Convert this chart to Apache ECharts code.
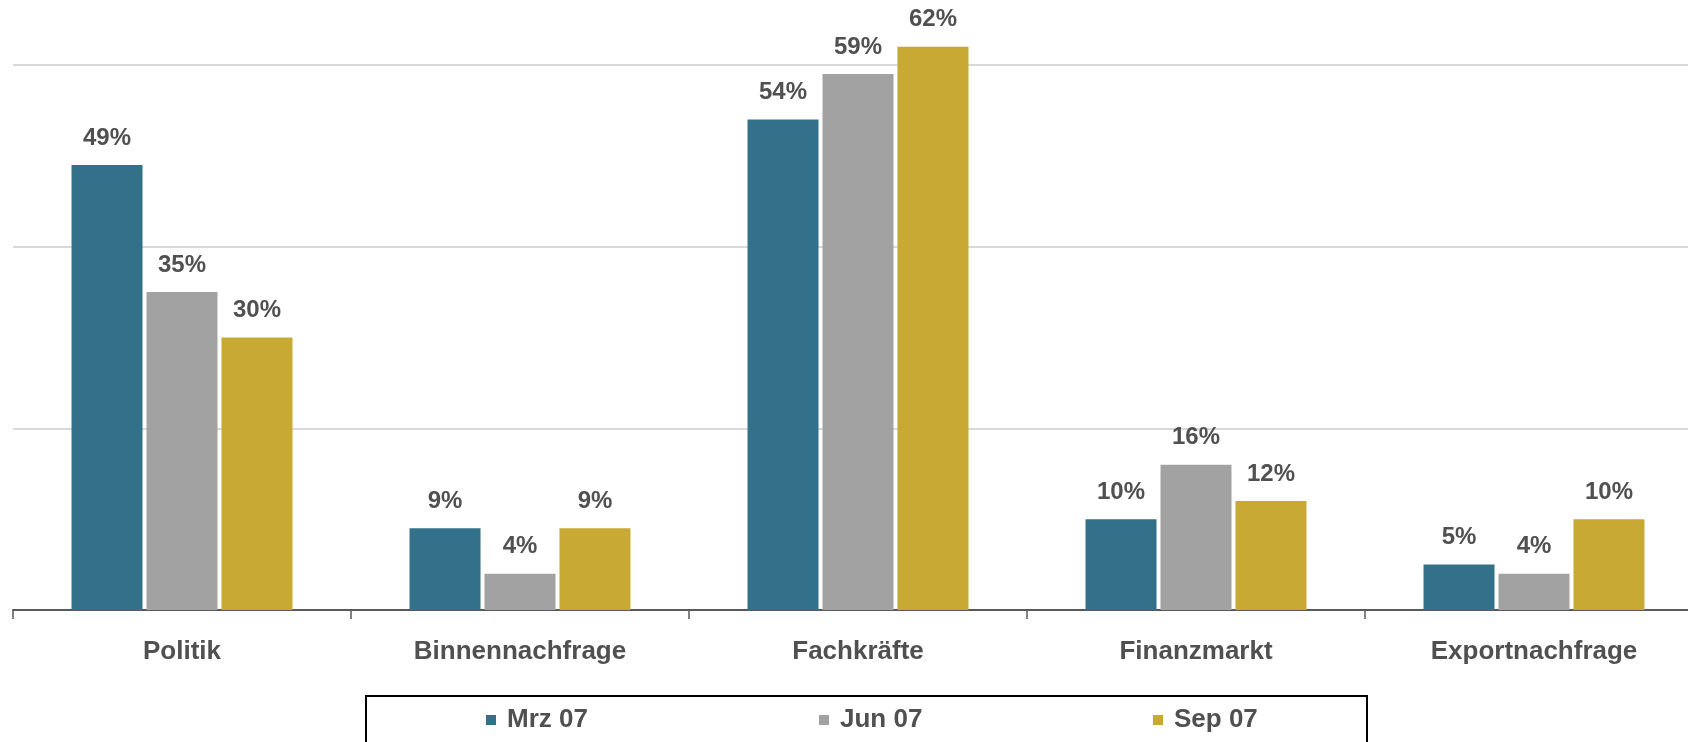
<!DOCTYPE html>
<html>
<head>
<meta charset="utf-8">
<script src="https://cdn.jsdelivr.net/npm/echarts@6/dist/echarts.min.js"></script>
<style>
  html, body { margin: 0; padding: 0; background: #fff; }
  #chart { width: 1688px; height: 742px; }
</style>
</head>
<body>
<div id="chart"></div>
<script>
// Daten
var categories = ['Politik', 'Binnennachfrage', 'Fachkräfte', 'Finanzmarkt', 'Exportnachfrage'];
var seriesNames = ['Mrz 07', 'Jun 07', 'Sep 07'];
var mrz07 = [49, 9, 54, 10, 5];
var jun07 = [35, 4, 59, 16, 4];
var sep07 = [30, 9, 62, 12, 10];
var colors = ['#33718b', '#a2a2a2', '#c8a933'];

var FONT = '"Liberation Sans", Arial, sans-serif';
var TEXT = '#505050';

function makeSeries(name, values, color) {
    return {
        name: name,
        type: 'bar',
        data: values,
        clip: false,          // 62% ragt über die oberste Linie
        barWidth: 71,
        barGap: '5.6%',
        itemStyle: { color: color },
        label: {
            show: true,
            position: 'top',
            distance: 15,
            formatter: '{c}%',
            color: TEXT,
            fontFamily: FONT,
            fontWeight: 'bold',
            fontSize: 24,
            lineHeight: 24
        }
    };
}

function makeLegend(name, left) {
    return {
        data: [name],
        left: left,
        top: 707,
        padding: 0,
        icon: 'rect',
        itemWidth: 10,
        itemHeight: 10,
        textStyle: {
            color: TEXT,
            fontFamily: FONT,
            fontWeight: 'bold',
            fontSize: 26,
            lineHeight: 26,
            padding: [0, 0, 0, 6]
        }
    };
}

var chart = echarts.init(document.getElementById('chart'));
var option = {
    backgroundColor: '#fff',
    animation: false,
    color: colors,
    grid: { left: 13, right: -15, top: 65, bottom: 132, outerBoundsMode: 'none', containLabel: false },
    legend: [
        makeLegend(seriesNames[0], 486),
        makeLegend(seriesNames[1], 819),
        makeLegend(seriesNames[2], 1153)
    ],
    xAxis: {
        type: 'category',
        data: categories,
        axisLine: { lineStyle: { color: '#595959', width: 2 } },
        axisTick: { show: true, length: 9, lineStyle: { color: '#595959', width: 1.5 } },
        axisLabel: {
            margin: 29,
            color: TEXT,
            fontFamily: FONT,
            fontWeight: 'bold',
            fontSize: 26
        }
    },
    yAxis: {
        type: 'value',
        min: 0,
        max: 60,
        interval: 20,
        axisLine: { show: false },
        axisTick: { show: false },
        axisLabel: { show: false },
        splitLine: { lineStyle: { color: '#d9d9d9', width: 2 } }
    },
    graphic: [{
        type: 'rect',
        shape: { x: 366, y: 696, width: 1001, height: 80 },
        style: { fill: 'none', stroke: '#000', lineWidth: 2 }
    }],
    series: [
        makeSeries(seriesNames[0], mrz07, colors[0]),
        makeSeries(seriesNames[1], jun07, colors[1]),
        makeSeries(seriesNames[2], sep07, colors[2])
    ]
};
chart.setOption(option);
</script>
</body>
</html>
